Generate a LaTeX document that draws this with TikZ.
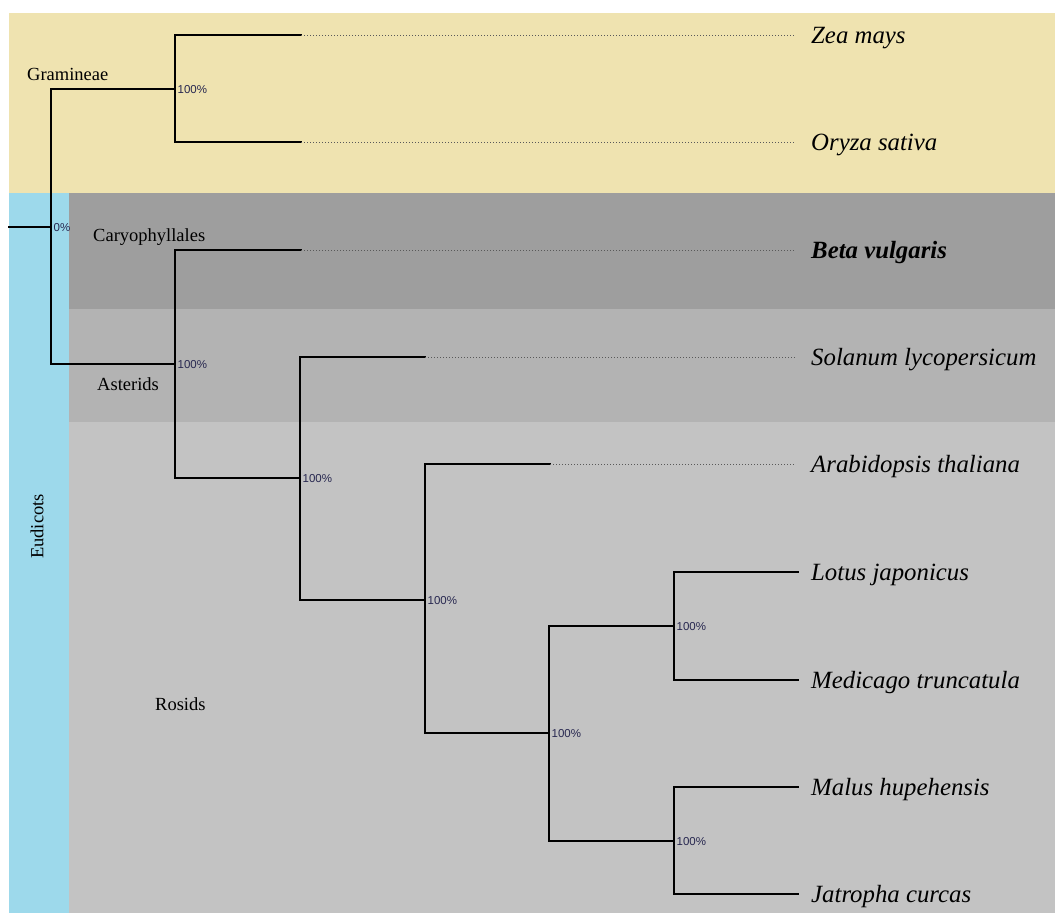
\documentclass[tikz,border=0pt]{standalone}
\usepackage{fontspec}
\setmainfont{Liberation Serif}
\setsansfont{Liberation Sans}
\definecolor{beige}{RGB}{239,227,176}
\definecolor{eublue}{RGB}{157,217,235}
\definecolor{gdark}{RGB}{158,158,158}
\definecolor{gmid}{RGB}{179,179,179}
\definecolor{glight}{RGB}{195,195,195}
\definecolor{bootc}{RGB}{40,40,80}
\begin{document}
\begin{tikzpicture}[x=1pt,y=-1pt,
  branch/.style={line width=1.7pt, line cap=rect},
  leafdots/.style={line width=0.8pt, black!65, dash pattern=on 1pt off 2pt},
  species/.style={anchor=base west, inner sep=0pt, font=\fontsize{24.8}{28}\selectfont\itshape},
  grouplab/.style={anchor=base west, inner sep=0pt, font=\fontsize{18.5}{22}\selectfont},
  boot/.style={anchor=west, inner sep=0pt, xshift=2.5pt, yshift=-1pt, text=bootc, font=\sffamily\fontsize{11.5}{13}\selectfont}]
\useasboundingbox (0,0) rectangle (1055,913);
\fill[white] (0,0) rectangle (1055,913);
% background bands
\fill[beige] (9,13) rectangle (1055,193);
\fill[eublue] (9,193) rectangle (69,913);
\fill[gdark] (69,193) rectangle (1055,309);
\fill[gmid] (69,309) rectangle (1055,421.5);
\fill[glight] (69,421.5) rectangle (1055,913);
% group labels
\node[grouplab] (lgram) at (27,80) {Gramineae};
\node[grouplab] (lcary) at (93,241.5) {Caryophyllales};
\node[grouplab] (laste) at (97,390.5) {Asterids};
\node[grouplab] (lrosi) at (155,710.5) {Rosids};
\node[grouplab, rotate=90] (leudi) at (43.3,559) {Eudicots};
% internal nodes
\coordinate (rs) at (9,227);
\coordinate (r) at (51,227);
\coordinate (g) at (175,89);
\coordinate (e) at (175,364);
\coordinate (a) at (300,478);
\coordinate (b) at (425,600);
\coordinate (c) at (549,733);
\coordinate (d) at (674,626);
\coordinate (f) at (674,841);
% leaf ends (solid)
\coordinate (zeaS) at (301,35);
\coordinate (oryS) at (301,142);
\coordinate (betS) at (301,250);
\coordinate (solS) at (425,357);
\coordinate (araS) at (550,464);
\coordinate (lotS) at (798,572);
\coordinate (medS) at (798,680);
\coordinate (malS) at (798,787);
\coordinate (jatS) at (798,894);
% dotted ends
\coordinate (zeaD) at (795,35);
\coordinate (oryD) at (795,142);
\coordinate (betD) at (795,250);
\coordinate (solD) at (795,357);
\coordinate (araD) at (795,464);
% branches
\draw[branch] (rs) -- (r);
\draw[branch] (r) |- (g);
\draw[branch] (r) |- (e);
\draw[branch] (g) |- (zeaS);
\draw[branch] (g) |- (oryS);
\draw[branch] (e) |- (betS);
\draw[branch] (e) |- (a);
\draw[branch] (a) |- (solS);
\draw[branch] (a) |- (b);
\draw[branch] (b) |- (araS);
\draw[branch] (b) |- (c);
\draw[branch] (c) |- (d);
\draw[branch] (c) |- (f);
\draw[branch] (d) |- (lotS);
\draw[branch] (d) |- (medS);
\draw[branch] (f) |- (malS);
\draw[branch] (f) |- (jatS);
% dotted extensions
\draw[leafdots] (zeaS) -- (zeaD);
\draw[leafdots] (oryS) -- (oryD);
\draw[leafdots] (betS) -- (betD);
\draw[leafdots] (solS) -- (solD);
\draw[leafdots] (araS) -- (araD);
% bootstrap values
\node[boot] (bg) at (g) {100\%};
\node[boot] (br) at (r) {0\%};
\node[boot] (be) at (e) {100\%};
\node[boot] (ba) at (a) {100\%};
\node[boot] (bb) at (b) {100\%};
\node[boot] (bc) at (c) {100\%};
\node[boot] (bd) at (d) {100\%};
\node[boot] (bf) at (f) {100\%};
% species labels
\node[species] (zea) at (811,43.5) {Zea mays};
\node[species] (ory) at (811,150.5) {Oryza sativa};
\node[species, font=\fontsize{24.8}{28}\selectfont\bfseries\itshape] (bet) at (811,258.5) {Beta vulgaris};
\node[species] (sol) at (811,365.5) {Solanum lycopersicum};
\node[species] (ara) at (811,472.5) {Arabidopsis thaliana};
\node[species] (lot) at (811,580.5) {Lotus japonicus};
\node[species] (med) at (811,688.5) {Medicago truncatula};
\node[species] (mal) at (811,795.5) {Malus hupehensis};
\node[species] (jat) at (811,902.5) {Jatropha curcas};
\end{tikzpicture}
\end{document}
